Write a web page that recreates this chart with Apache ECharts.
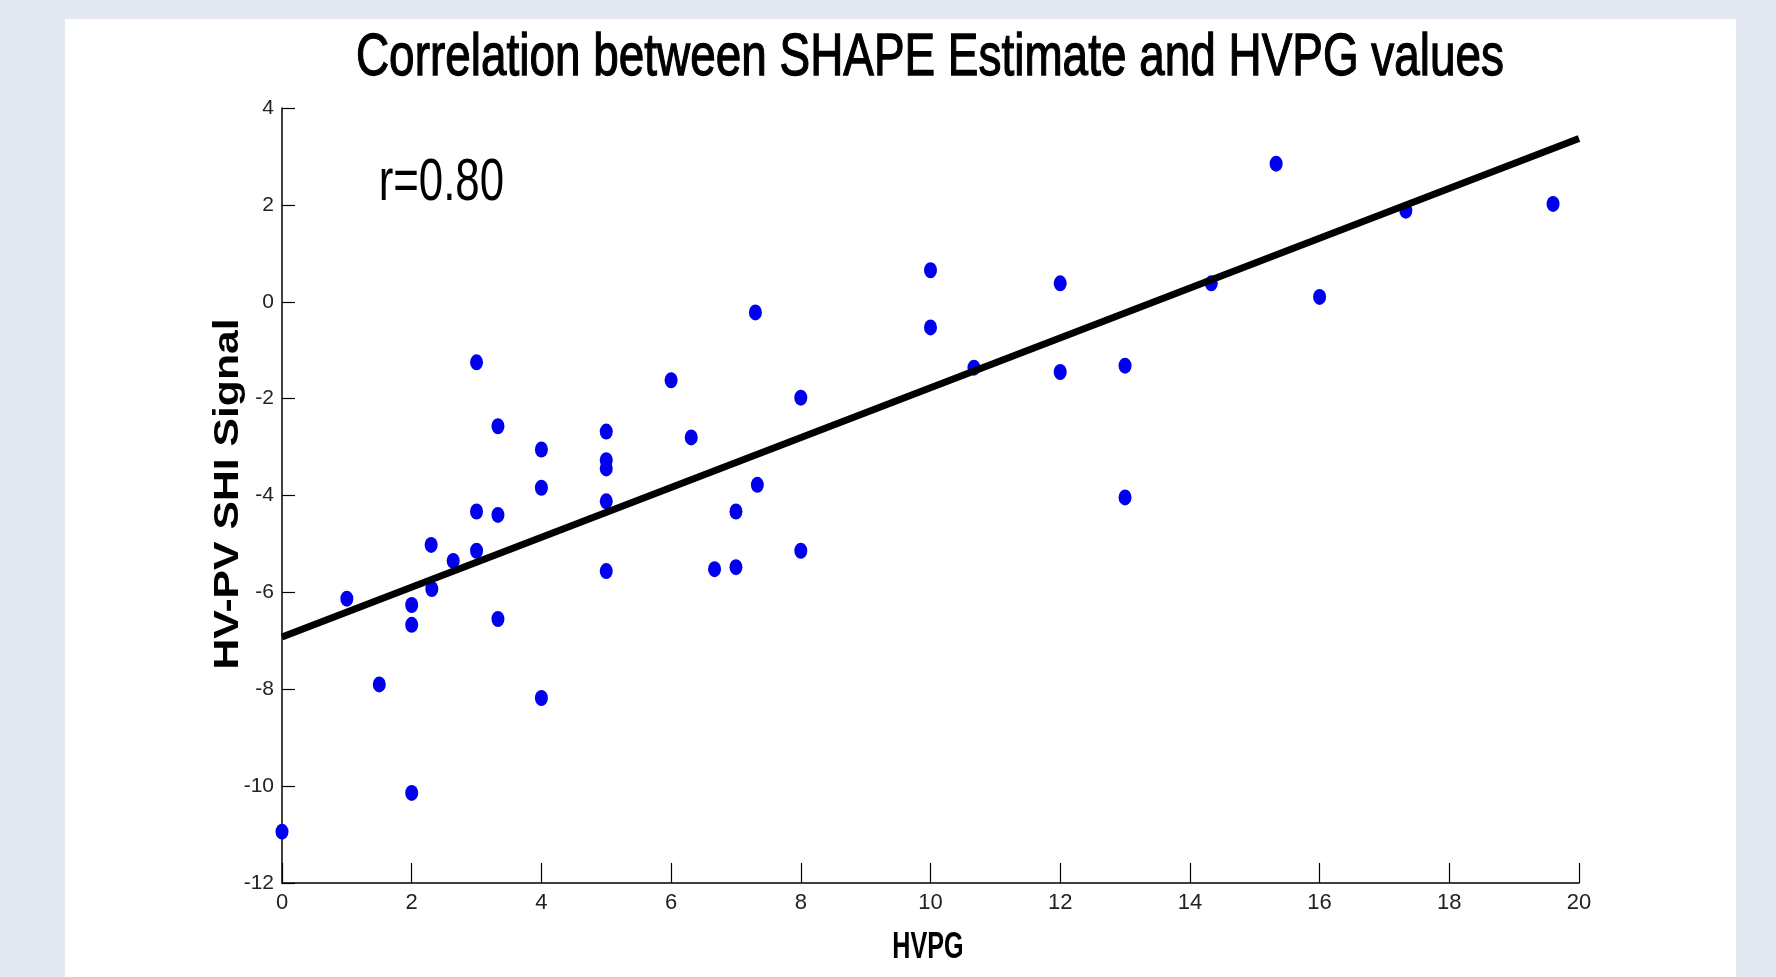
<!DOCTYPE html>
<html>
<head>
<meta charset="utf-8">
<title>Correlation between SHAPE Estimate and HVPG values</title>
<script src="https://cdn.jsdelivr.net/npm/echarts@6/dist/echarts.min.js"></script>
<style>
  html, body {
    margin: 0;
    padding: 0;
    width: 1776px;
    height: 977px;
    background: #e4e8f0;
    overflow: hidden;
  }
  .panel {
    position: absolute;
    left: 65px;
    top: 19px;
    width: 1671px;
    height: 958px;
    background: #ffffff;
  }
  #chart {
    position: absolute;
    left: 0;
    top: 0;
    width: 1776px;
    height: 977px;
  }
</style>
</head>
<body>
<div class="panel"></div>
<div id="chart"></div>
<script>
// HVPG (x) vs HV-PV SHI signal (y)
const hvpg = [0, 1, 1.5, 2, 2, 2, 2.3, 2.31, 2.64, 3, 3, 3, 3.33, 3.33, 3.33,
  4, 4, 4, 5, 5, 5, 5, 5, 6, 6.31, 6.67, 7, 7, 7.3, 7.33, 8, 8,
  10, 10, 10.67, 12, 12, 13, 13, 14.33, 15.33, 16, 17.33, 19.6]
const shiSignal = [-10.94, -6.13, -7.9, -6.26, -6.67, -10.14, -5.02, -5.93, -5.35, -1.25, -4.33, -5.14, -2.57, -4.40, -6.55,
  -3.05, -3.84, -8.18, -2.68, -3.27, -3.44, -4.12, -5.56, -1.62, -2.8, -5.52, -4.33, -5.48, -0.22, -3.78, -1.98, -5.14,
  0.65, -0.53, -1.36, 0.38, -1.45, -1.32, -4.04, 0.38, 2.85, 0.1, 1.88, 2.02]

// fitted regression line end points
const fitX = [0, 20]
const fitY = [-6.92, 3.37]

// axis ranges / ticks
const xTicks = { min: 0, max: 20, interval: 2 }
const yTicks = { min: -12, max: 4, interval: 2 }

const titleText = 'Correlation between SHAPE Estimate and HVPG values'
const xName = 'HVPG'
const yName = 'HV-PV SHI Signal'
const rLabel = 'r=0.80'
const rAt = [1.49, 2.45] // where the r label sits, in data units

const sans = "'Liberation Sans', Arial, sans-serif"

const myChart = echarts.init(document.getElementById('chart'))

const option = {
  animation: false,
  grid: {
    left: 282,
    right: 197,
    top: 108,
    bottom: 94,
    containLabel: false,
    outerBoundsMode: 'none'
  },
  xAxis: {
    type: 'value',
    min: xTicks.min,
    max: xTicks.max,
    interval: xTicks.interval,
    axisLine: { onZero: false, lineStyle: { color: '#000', width: 1.5 } },
    axisTick: { inside: true, length: 20, lineStyle: { color: '#000', width: 1.2 } },
    axisLabel: { margin: 9, fontFamily: sans, fontSize: 22, color: '#222' },
    splitLine: { show: false }
  },
  yAxis: {
    type: 'value',
    min: yTicks.min,
    max: yTicks.max,
    interval: yTicks.interval,
    axisLine: { onZero: false, lineStyle: { color: '#000', width: 1.5 } },
    axisTick: { inside: true, length: 13, lineStyle: { color: '#000', width: 1.2 } },
    axisLabel: { margin: 8, fontFamily: sans, fontSize: 21, color: '#222' },
    splitLine: { show: false }
  },
  series: [
    {
      name: 'patients',
      type: 'scatter',
      data: hvpg.map((x, i) => [x, shiSignal[i]]),
      symbol: 'circle',
      symbolSize: [13, 16],
      itemStyle: { color: '#0000ee', opacity: 1 },
      z: 2
    },
    {
      name: 'fit',
      type: 'line',
      data: fitX.map((x, i) => [x, fitY[i]]),
      showSymbol: false,
      symbol: 'none',
      lineStyle: { color: '#000', width: 7 },
      z: 3
    }
  ]
}

myChart.setOption(option)

// texts of the figure are condensed, so they are drawn as scaled graphic text
const rPx = myChart.convertToPixel({ gridIndex: 0 }, rAt)
myChart.setOption({
  graphic: [
    {
      type: 'text',
      x: 930,
      y: 58,
      scaleX: 0.765,
      style: {
        text: titleText,
        font: '60px ' + sans,
        fill: '#000',
        stroke: '#000',
        lineWidth: 1.3,
        align: 'center',
        verticalAlign: 'middle'
      }
    },
    {
      type: 'text',
      x: rPx[0],
      y: rPx[1],
      scaleX: 0.73,
      style: {
        text: rLabel,
        font: '60px ' + sans,
        fill: '#000',
        align: 'left',
        verticalAlign: 'middle'
      }
    },
    {
      type: 'text',
      x: 928,
      y: 948,
      scaleX: 0.68,
      style: {
        text: xName,
        font: 'bold 37px ' + sans,
        fill: '#000',
        align: 'center',
        verticalAlign: 'middle'
      }
    },
    {
      type: 'text',
      x: 228,
      y: 494,
      rotation: Math.PI / 2,
      scaleX: 1.22,
      style: {
        text: yName,
        font: 'bold 35px ' + sans,
        fill: '#000',
        align: 'center',
        verticalAlign: 'middle'
      }
    }
  ]
})

window.addEventListener('resize', () => {
  myChart?.resize()
})
</script>
</body>
</html>
